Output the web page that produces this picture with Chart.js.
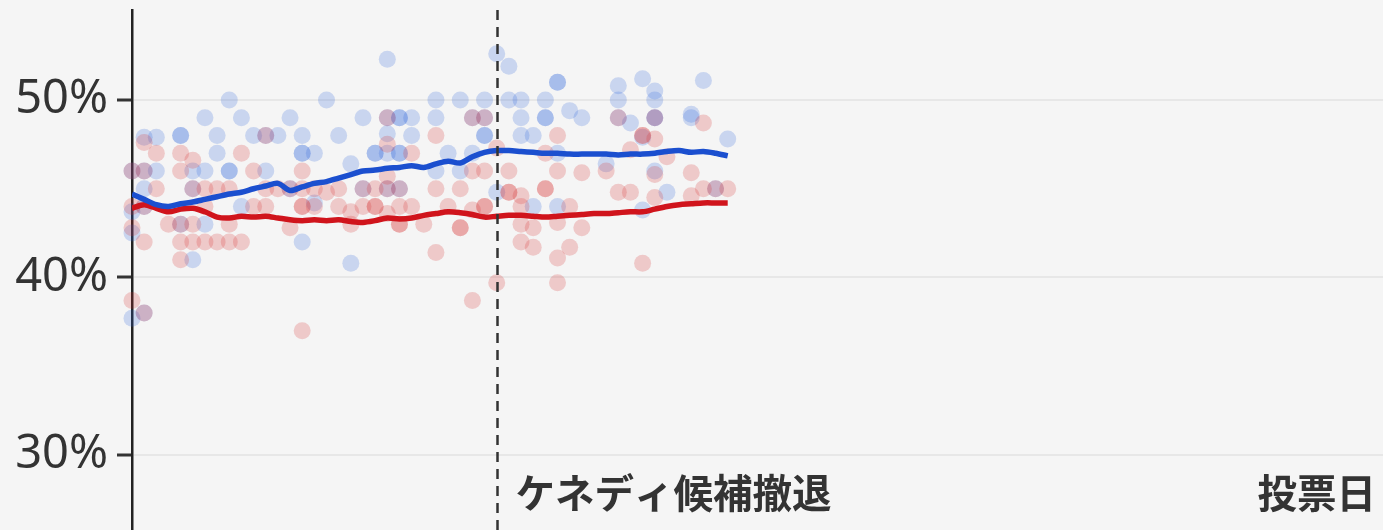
<!DOCTYPE html>
<html>
<head>
<meta charset="utf-8">
<script src="https://cdn.jsdelivr.net/npm/chart.js@4.4.1/dist/chart.umd.min.js"></script>
<style>
  html, body { margin: 0; padding: 0; background: #f5f5f5; overflow: hidden; }
  #wrap { width: 1383px; height: 530px; }
</style>
</head>
<body>
<div id="wrap"><canvas id="c" width="1383" height="530"></canvas></div>
<script>
// Days since start of the chart (day 0 = left axis)
const trendDays = [0,1,2,3,4,5,6,7,8,9,10,11,12,13,14,15,16,17,18,19,20,21,22,23,24,25,26,27,28,29,30,31,32,33,34,35,36,37,38,39,40,41,42,43,44,45,46,47,48,49];
const harrisTrend = [44.7,44.4,44.1,44.0,44.15,44.25,44.4,44.55,44.7,44.8,45.0,45.15,45.3,44.9,45.1,45.3,45.4,45.6,45.8,46.0,46.05,46.15,46.2,46.3,46.2,46.4,46.55,46.45,46.8,47.05,47.15,47.15,47.1,47.05,47.0,47.0,46.95,46.95,46.95,46.95,46.9,46.95,46.95,47.0,47.1,47.15,47.05,47.1,47.0,46.85];
const trumpTrend = [43.9,44.1,43.9,43.7,43.85,43.9,43.7,43.4,43.35,43.45,43.4,43.45,43.35,43.25,43.2,43.25,43.2,43.25,43.15,43.1,43.2,43.35,43.3,43.35,43.5,43.6,43.7,43.65,43.55,43.4,43.45,43.5,43.5,43.45,43.4,43.45,43.5,43.55,43.6,43.6,43.65,43.7,43.7,43.85,44.0,44.1,44.15,44.2,44.2,44.2];

// Individual polls: [day, percent]
const harrisPolls = [
  [0,37.7],[0,42.5],[0,43.7],[0,46],
  [1,47.9],[1,46],[1,45],[1,44],[1,38],
  [2,47.9],[2,46],
  [4,48],[4,48],[4,43],
  [5,46],[5,45],[5,41],
  [6,49],[6,46],[6,43],
  [7,48],[7,47],
  [8,50],[8,46],[8,46],
  [9,49],[9,44],
  [10,48],
  [11,48],[11,46],
  [12,48],
  [13,49],[13,45],
  [14,48],[14,47],[14,47],[14,42],
  [15,47],[15,44.2],
  [16,50],
  [17,48],
  [18,46.4],[18,40.8],
  [19,49],[19,45],
  [20,47],[20,47],
  [21,52.3],[21,49],[21,48.1],[21,47],[21,45],
  [22,49],[22,49],[22,47],[22,47],[22,45],
  [23,49],[23,48],
  [25,50],[25,49],[25,46],
  [26,47],
  [27,50],[27,46],
  [28,49],[28,47],
  [29,50],[29,49],[29,48],[29,48],
  [30,52.6],[30,44.8],
  [31,51.9],[31,50],
  [32,50],[32,49],[32,48],
  [33,48],[33,44],
  [34,50],[34,49],[34,49],
  [35,51],[35,51],[35,47],[35,44],
  [36,49.4],
  [37,49],
  [39,46.4],
  [40,50.8],[40,50],[40,49],
  [41,48.7],
  [42,51.2],[42,47.9],[42,43.8],
  [43,50.5],[43,50],[43,49],[43,49],[43,46],
  [44,44.8],
  [46,49.2],[46,49],
  [47,51.1],
  [48,45],
  [49,47.8]
];
const trumpPolls = [
  [0,46],[0,44],[0,42.8],[0,38.7],
  [1,47.6],[1,46],[1,44],[1,42],[1,38],
  [2,47],[2,45],
  [3,43],
  [4,47],[4,46],[4,43],[4,42],[4,41],
  [5,46.6],[5,45],[5,43],[5,42],
  [6,45],[6,44],[6,42],
  [7,45],[7,42],
  [8,45],[8,43],[8,42],
  [9,47],[9,42],
  [10,46],[10,44],
  [11,48],[11,45],[11,44],
  [12,45],
  [13,45],[13,42.8],
  [14,46],[14,45],[14,44],[14,44],[14,37],
  [15,45],[15,44],
  [16,44.8],
  [17,45],[17,44],
  [18,43.7],[18,43],
  [19,45],[19,44],
  [20,45],[20,44],[20,44],
  [21,49],[21,47.5],[21,45.7],[21,45],[21,43.6],
  [22,45],[22,44],[22,43],[22,43],
  [23,47],[23,44],
  [24,43],
  [25,48],[25,45],[25,41.4],
  [26,44],
  [27,45],[27,42.8],[27,42.8],
  [28,49],[28,46],[28,43.8],[28,38.7],
  [29,49],[29,46],[29,44],[29,44],
  [30,47.3],[30,39.7],
  [31,46],[31,44.8],[31,44.8],
  [32,44.6],[32,44],[32,43],[32,42],
  [33,42.8],[33,41.7],
  [34,47],[34,45],[34,45],
  [35,48],[35,46],[35,43.1],[35,41.1],[35,39.7],
  [36,44],[36,41.7],
  [37,45.9],[37,42.8],
  [39,46],
  [40,49],[40,44.8],
  [41,47.2],[41,44.8],
  [42,48],[42,48],[42,40.8],
  [43,49],[43,47.8],[43,45.8],[43,44.5],
  [44,46.8],
  [46,45.9],[46,44.6],
  [47,48.7],[47,45],
  [48,45],
  [49,45]
];

const yTicks = [30, 40, 50];
const kennedyDay = 30;
const kennedyLabel = 'ケネディ候補撤退';
const electionLabel = '投票日';

const toXY = arr => arr.map(p => ({x: p[0], y: p[1]}));

const annotations = {
  id: 'annotations',
  afterDatasetsDraw(chart) {
    const {ctx, chartArea, scales} = chart;
    const kx = Math.round(scales.x.getPixelForValue(kennedyDay)) + 0.5;
    ctx.save();
    ctx.strokeStyle = '#333';
    ctx.lineWidth = 2.5;
    ctx.setLineDash([10, 7]);
    ctx.beginPath();
    ctx.moveTo(kx, chartArea.top);
    ctx.lineTo(kx, chartArea.bottom);
    ctx.stroke();
    ctx.setLineDash([]);
    ctx.fillStyle = '#333';
    ctx.font = 'bold 39.5px "Noto Sans CJK JP"';
    ctx.textBaseline = 'middle';
    ctx.textAlign = 'left';
    ctx.fillText(kennedyLabel, kx + 18, chartArea.bottom - 37);
    ctx.textAlign = 'right';
    ctx.fillText(electionLabel, chartArea.right - 7, chartArea.bottom - 37);
    ctx.restore();
  }
};

new Chart(document.getElementById('c'), {
  data: {
    datasets: [
      {
        type: 'scatter',
        data: toXY(harrisPolls),
        backgroundColor: 'rgba(45,100,220,0.22)',
        borderWidth: 0,
        pointRadius: 8.5,
        clip: false,
        order: 4
      },
      {
        type: 'scatter',
        data: toXY(trumpPolls),
        backgroundColor: 'rgba(215,45,45,0.22)',
        borderWidth: 0,
        pointRadius: 8.5,
        clip: false,
        order: 3
      },
      {
        type: 'line',
        data: trendDays.map((d, i) => ({x: d, y: trumpTrend[i]})),
        borderColor: '#d0141c',
        borderWidth: 5.5,
        pointRadius: 0,
        tension: 0.3,
        fill: false,
        order: 2
      },
      {
        type: 'line',
        data: trendDays.map((d, i) => ({x: d, y: harrisTrend[i]})),
        borderColor: '#1b4fcf',
        borderWidth: 5.5,
        pointRadius: 0,
        tension: 0.3,
        fill: false,
        order: 1
      }
    ]
  },
  options: {
    responsive: false,
    animation: false,
    devicePixelRatio: 1,
    layout: { autoPadding: false, padding: { top: 10, left: 0, right: 0, bottom: 0 } },
    plugins: { legend: { display: false }, tooltip: { enabled: false } },
    scales: {
      x: {
        type: 'linear',
        min: 0,
        max: 102.9,
        display: false
      },
      y: {
        type: 'linear',
        min: 25.77,
        max: 55.07,
        afterBuildTicks(scale) { scale.ticks = yTicks.map(v => ({value: v})); },
        afterFit(scale) {
          scale.width = 132;
          scale.paddingTop = 0;
          scale.paddingBottom = 0;
        },
        ticks: {
          callback: v => v + '%',
          color: '#333',
          font: { family: '"Noto Sans", "Open Sans", sans-serif', size: 47 },
          padding: 9
        },
        grid: {
          color: '#e7e7e7',
          lineWidth: 2,
          tickColor: '#333',
          tickWidth: 3,
          tickLength: 15
        },
        border: { display: true, color: '#222', width: 2.5 }
      }
    }
  },
  plugins: [annotations]
});
</script>
</body>
</html>
